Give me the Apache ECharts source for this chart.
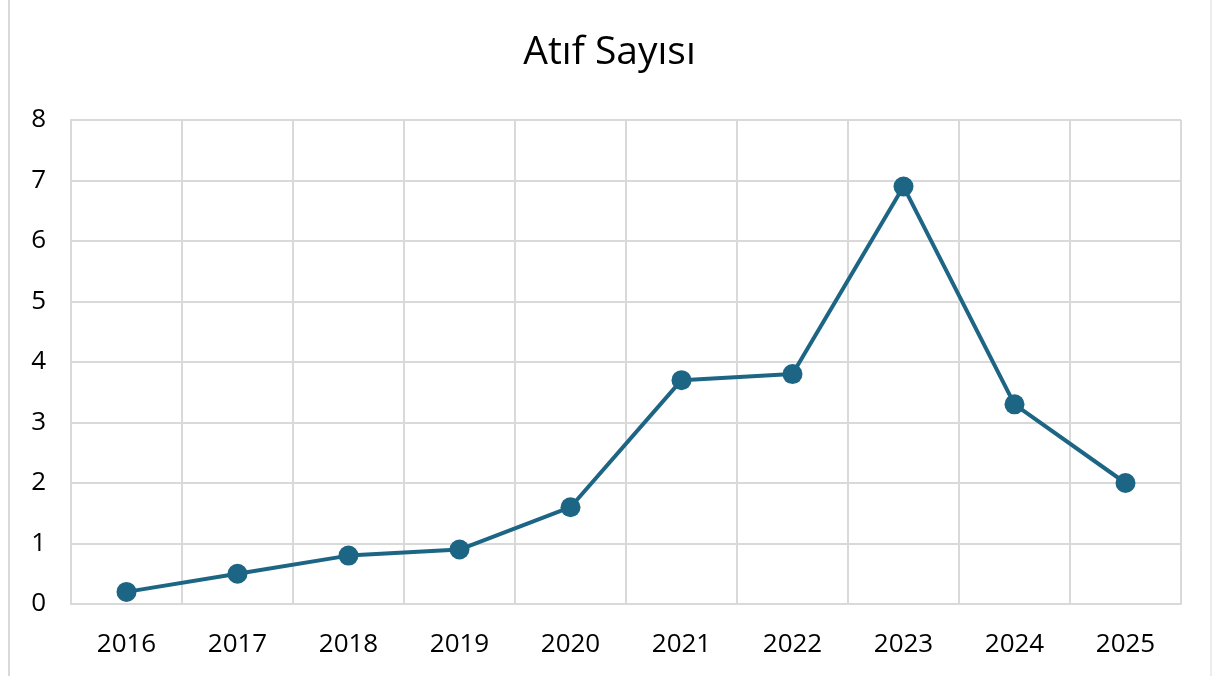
<!DOCTYPE html>
<html>
<head>
<meta charset="utf-8">
<script src="https://cdn.jsdelivr.net/npm/echarts@6/dist/echarts.min.js"></script>
<style>
  html, body { margin: 0; padding: 0; background: #fff; }
  #chart { width: 1219px; height: 676px; }
</style>
</head>
<body>
<div id="chart"></div>
<script>
  const years = ["2016", "2017", "2018", "2019", "2020", "2021", "2022", "2023", "2024", "2025"];
  const citations = [0.2, 0.5, 0.8, 0.9, 1.6, 3.7, 3.8, 6.9, 3.3, 2.0];

  const lineColor = "#1d6585";
  const gridColor = "#d9d9d9";
  const font = "'Open Sans', 'Noto Sans', sans-serif";

  const chart = echarts.init(document.getElementById("chart"), null, { renderer: "canvas" });

  chart.setOption({
    animation: false,
    backgroundColor: "#fff",
    title: {
      text: "Atıf Sayısı",
      left: "center",
      top: 28,
      textStyle: { fontFamily: font, fontSize: 39, fontWeight: "normal", color: "#000" }
    },
    grid: { left: 71, right: 38, top: 120, bottom: 72 },
    xAxis: {
      type: "category",
      data: years,
      boundaryGap: true,
      axisLine: { show: true, lineStyle: { color: gridColor, width: 2 } },
      axisTick: { show: false },
      axisLabel: { color: "#000", fontFamily: font, fontSize: 26, margin: 28 },
      splitLine: { show: true, lineStyle: { color: gridColor, width: 2 } }
    },
    yAxis: {
      type: "value",
      min: 0,
      max: 8,
      interval: 1,
      axisLine: { show: true, lineStyle: { color: gridColor, width: 2 } },
      axisTick: { show: false },
      axisLabel: { color: "#000", fontFamily: font, fontSize: 26, margin: 25 },
      splitLine: { lineStyle: { color: gridColor, width: 2 } }
    },
    series: [{
      type: "line",
      data: citations,
      symbol: "circle",
      symbolSize: 20,
      lineStyle: { color: lineColor, width: 4 },
      itemStyle: { color: lineColor }
    }],
    graphic: [
      { type: "line", shape: { x1: 9, y1: 0, x2: 9, y2: 676 }, style: { stroke: gridColor, lineWidth: 2 } },
      { type: "line", shape: { x1: 1211, y1: 0, x2: 1211, y2: 676 }, style: { stroke: "#ececec", lineWidth: 2 } }
    ]
  });
</script>
</body>
</html>
